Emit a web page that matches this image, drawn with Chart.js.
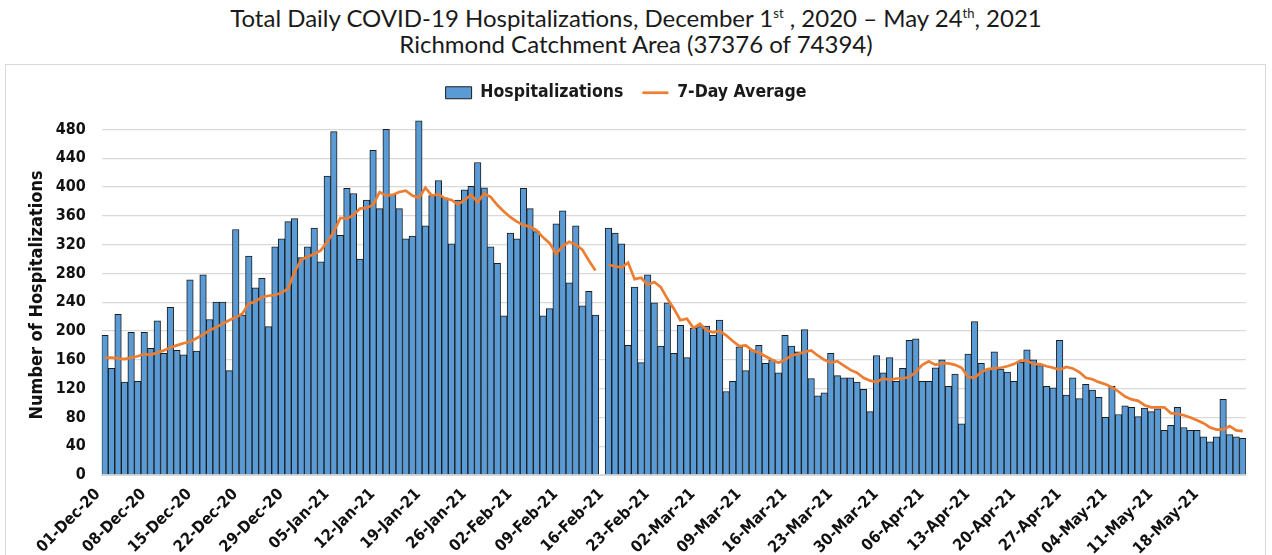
<!DOCTYPE html>
<html>
<head>
<meta charset="utf-8">
<script src="https://cdn.jsdelivr.net/npm/chart.js@4.4.1/dist/chart.umd.min.js"></script>
<style>
  body { margin: 0; background: #fff; width: 1272px; height: 555px; overflow: hidden;
         font-family: 'Liberation Sans Narrow', 'DejaVu Sans Condensed', sans-serif; }
  #titulo { position: absolute; left: 0; top: 5px; width: 1272px; text-align: center;
            font-family: Lato, sans-serif; font-size: 24px; line-height: 26px; color: #1a1a1a; }
  #titulo sup { font-size: 13px; line-height: 0; }
  #caja { position: absolute; left: 5px; top: 64px; width: 1259px; height: 490px;
          border: 1px solid #d9d9d9; }
</style>
</head>
<body>
<div id="titulo">
  Total Daily COVID-19 Hospitalizations, December 1<sup>st</sup> , 2020 – May 24<sup>th</sup>, 2021<br>
  Richmond Catchment Area (37376 of 74394)
</div>
<div id="caja"><canvas id="grafica"></canvas></div>
<script>
// categorias: un dia por barra, 01-Dec-20 a 24-May-21
const meses = ['Jan', 'Feb', 'Mar', 'Apr', 'May', 'Jun', 'Jul', 'Aug', 'Sep', 'Oct', 'Nov', 'Dec'];
const fechas = [];
for (let i = 0; i < 175; i++) {
  const d = new Date(2020, 11, 1 + i);
  fechas.push(String(d.getDate()).padStart(2, '0') + '-' + meses[d.getMonth()] + '-' + String(d.getFullYear()).slice(2));
}

const hospitalizaciones = [
  194, 148, 223, 129, 198, 130, 198, 176, 214, 169, 233, 173, 167, 271, 172, 278, 216, 240, 240, 145,
  341, 222, 304, 260, 273, 206, 317, 328, 352, 356, 302, 317, 343, 296, 415, 477, 333, 398, 391, 300,
  382, 451, 370, 480, 389, 370, 328, 332, 492, 346, 388, 409, 385, 321, 382, 396, 401, 434, 399, 317,
  294, 221, 336, 328, 398, 370, 338, 221, 231, 349, 367, 267, 346, 235, 255, 222, null, 343, 336, 321,
  180, 261, 156, 278, 239, 179, 239, 169, 208, 163, 204, 206, 207, 194, 215, 116, 130, 178, 145, 174,
  180, 155, 160, 142, 194, 179, 171, 202, 134, 110, 114, 169, 138, 135, 135, 129, 119, 88, 166, 142,
  163, 130, 148, 187, 189, 130, 130, 149, 160, 123, 140, 71, 168, 213, 155, 147, 171, 147, 143, 130,
  157, 174, 160, 152, 123, 121, 187, 111, 135, 106, 126, 118, 108, 80, 123, 84, 96, 94, 81, 93,
  88, 92, 62, 69, 94, 66, 62, 62, 53, 46, 53, 105, 56, 53, 51
];

const promedio7 = [
  163, 163, 162, 161, 163, 165, 168, 167, 170, 173, 177, 180, 183, 185, 190, 195, 201, 205, 210, 215,
  219, 224, 238, 241, 247, 249, 250, 253, 259, 282, 299, 303, 307, 312, 324, 338, 357, 356, 361, 370,
  371, 375, 393, 388, 389, 393, 395, 388, 385, 399, 388, 390, 384, 382, 376, 382, 389, 379, 391, 386,
  375, 366, 358, 352, 347, 345, 340, 330, 322, 307, 318, 324, 320, 313, 298, 284, null, 292, 290, 288,
  295, 272, 274, 264, 268, 261, 245, 231, 215, 217, 204, 210, 201, 198, 200, 194, 186, 179, 180, 173,
  170, 165, 160, 156, 160, 166, 168, 171, 173, 166, 160, 156, 158, 152, 146, 142, 135, 131, 129, 134,
  132, 134, 134, 136, 143, 153, 158, 153, 155, 155, 153, 149, 136, 135, 143, 147, 148, 149, 151, 154,
  159, 159, 154, 154, 151, 149, 146, 150, 148, 143, 135, 133, 129, 126, 122, 116, 109, 105, 103, 97,
  94, 94, 94, 86, 85, 83, 80, 76, 72, 66, 63, 63, 68, 62, 61
];

const marcasY = [0, 40, 80, 120, 160, 200, 240, 280, 320, 360, 400, 440, 480];

const fuente = "'Liberation Sans Narrow', 'DejaVu Sans Condensed', sans-serif";

// alto fijo para la leyenda, asi el area del grafico cae donde en el original
const altoLeyenda = {
  id: 'altoLeyenda',
  beforeInit(chart) {
    const fitOrig = chart.legend.fit;
    chart.legend.fit = function () {
      fitOrig.call(this);
      this.height = 50;
    };
  }
};

const ctx = document.getElementById('grafica').getContext('2d');
const grafica = new Chart(ctx, {
  data: {
    labels: fechas,
    datasets: [{
      type: 'bar',
      label: 'Hospitalizations',
      data: hospitalizaciones,
      backgroundColor: '#5b9bd5',
      borderColor: '#1c1c1c',
      borderWidth: 1,
      barPercentage: 1,
      categoryPercentage: 1,
      pointStyle: 'rect',
      order: 1
    }, {
      type: 'line',
      label: '7-Day Average',
      data: promedio7,
      borderColor: '#ed7d31',
      backgroundColor: '#ed7d31',
      borderWidth: 2.7,
      pointRadius: 0,
      tension: 0,
      spanGaps: false,
      pointStyle: 'line',
      order: 0
    }]
  },
  options: {
    responsive: true,
    maintainAspectRatio: false,
    animation: false,
    layout: { padding: { left: 0, right: 19, top: 0, bottom: 0 } },
    plugins: {
      legend: {
        position: 'top',
        labels: {
          usePointStyle: true,
          pointStyleWidth: 26,
          boxHeight: 12,
          padding: 19,
          color: '#1a1a1a',
          font: { family: fuente, size: 17.5, weight: 'bold' },
          sort: (a, b) => a.datasetIndex - b.datasetIndex
        }
      },
      tooltip: { enabled: false }
    },
    scales: {
      x: {
        grid: { display: false },
        border: { display: true, color: '#d9d9d9' },
        ticks: {
          autoSkip: false,
          minRotation: 45,
          maxRotation: 45,
          padding: 2,
          labelOffset: -7,
          color: '#111',
          font: { family: fuente, size: 16, weight: 'bold' },
          callback: function (v, i) {
            return i % 7 === 0 ? this.getLabelForValue(v) : null;
          }
        },
        afterFit: function (s) { s.height = 80; }
      },
      y: {
        min: 0,
        max: 500,
        grid: { color: '#d9d9d9', lineWidth: 1.3, drawTicks: false },
        border: { display: false },
        ticks: {
          stepSize: 40,
          padding: 16,
          color: '#111',
          font: { family: fuente, size: 16, weight: 'bold' }
        },
        afterBuildTicks: function (s) {
          s.ticks = marcasY.map(v => ({ value: v }));
        },
        title: {
          display: true,
          text: 'Number of Hospitalizations',
          color: '#111',
          font: { family: fuente, size: 18, weight: 'bold' },
          padding: { top: 21, bottom: 0 }
        },
        afterFit: function (s) { s.width = 95.7; }
      }
    }
  },
  plugins: [altoLeyenda]
});
</script>
</body>
</html>
